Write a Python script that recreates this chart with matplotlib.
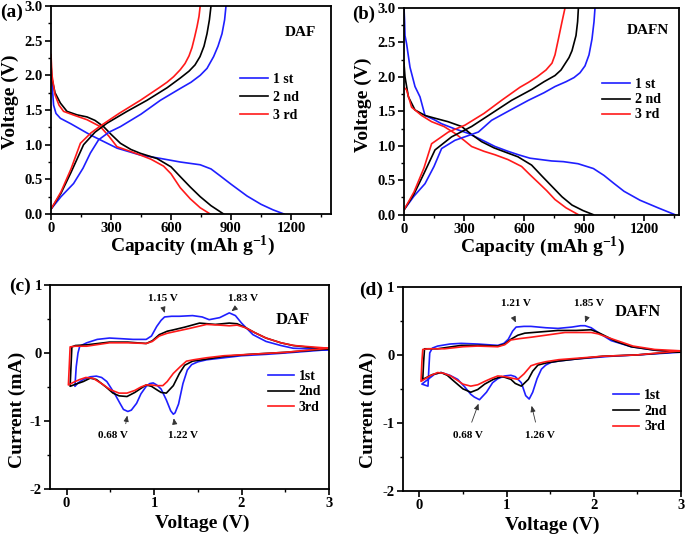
import matplotlib
matplotlib.use("Agg")
import matplotlib.pyplot as plt
from matplotlib.ticker import MultipleLocator, FormatStrFormatter

plt.rcParams['font.family'] = ['Liberation Serif', 'DejaVu Serif']
plt.rcParams['font.weight'] = 'bold'
plt.rcParams['axes.unicode_minus'] = False
plt.rcParams['mathtext.fontset'] = 'custom'
plt.rcParams['mathtext.rm'] = 'Liberation Serif:bold'
plt.rcParams['mathtext.it'] = 'Liberation Serif:bold'
plt.rcParams['mathtext.bf'] = 'Liberation Serif:bold'
plt.rcParams['mathtext.default'] = 'regular'

# ---------------- data: panel (a) DAF galvanostatic ----------------
a1_dis_cap = [0, 5, 13, 25, 47, 100, 197, 330, 447, 550, 646, 746, 800, 846, 900, 980, 1050, 1110, 1165]
a1_dis_v = [2.05, 1.88, 1.57, 1.45, 1.38, 1.30, 1.14, 0.95, 0.85, 0.80, 0.75, 0.71, 0.65, 0.55, 0.43, 0.26, 0.14, 0.06, 0.0]
a2_dis_cap = [0, 5, 20, 47, 80, 130, 180, 220, 263, 300, 347, 400, 447, 530, 600, 646, 696, 746, 800, 863]
a2_dis_v = [2.15, 1.95, 1.75, 1.60, 1.48, 1.43, 1.40, 1.35, 1.26, 1.15, 1.02, 0.93, 0.875, 0.80, 0.68, 0.54, 0.39, 0.25, 0.12, 0.0]
a3_dis_cap = [0, 5, 20, 40, 63, 120, 180, 247, 290, 330, 400, 447, 500, 563, 600, 646, 696, 746, 796]
a3_dis_v = [2.3, 2.0, 1.72, 1.57, 1.48, 1.42, 1.36, 1.26, 1.12, 0.97, 0.90, 0.85, 0.79, 0.69, 0.58, 0.38, 0.22, 0.09, 0.0]
a1_chg_cap = [0, 50, 113, 160, 197, 238, 290, 347, 450, 547, 646, 700, 746, 780, 813, 835, 855, 868, 875]
a1_chg_v = [0.07, 0.25, 0.44, 0.66, 0.88, 1.07, 1.18, 1.26, 1.44, 1.64, 1.81, 1.90, 2.0, 2.1, 2.27, 2.42, 2.6, 2.8, 3.0]
a2_chg_cap = [0, 50, 100, 163, 220, 280, 380, 480, 580, 646, 690, 720, 745, 765, 780, 792, 800]
a2_chg_v = [0.07, 0.3, 0.6, 1.0, 1.18, 1.31, 1.48, 1.64, 1.82, 1.96, 2.06, 2.15, 2.27, 2.42, 2.6, 2.8, 3.0]
a3_chg_cap = [0, 50, 100, 147, 200, 247, 340, 447, 540, 580, 613, 646, 670, 690, 705, 718, 730, 740, 746]
a3_chg_v = [0.07, 0.32, 0.65, 1.02, 1.17, 1.27, 1.45, 1.64, 1.82, 1.9, 1.98, 2.08, 2.17, 2.28, 2.4, 2.55, 2.7, 2.85, 3.0]

# ---------------- data: panel (b) DAFN galvanostatic ----------------
b1_dis_cap = [0, 3, 5, 13, 30, 55, 80, 105, 150, 188, 250, 322, 400, 455, 520, 572, 630, 738, 797, 870, 947, 1000, 1047, 1100, 1180, 1270, 1355]
b1_dis_v = [3.0, 2.8, 2.6, 2.48, 2.14, 1.86, 1.71, 1.44, 1.38, 1.32, 1.25, 1.18, 1.07, 0.99, 0.92, 0.87, 0.82, 0.78, 0.77, 0.74, 0.67, 0.57, 0.46, 0.34, 0.21, 0.1, 0.0]
b2_dis_cap = [0, 5, 22, 55, 105, 155, 220, 288, 340, 388, 450, 505, 570, 638, 690, 740, 790, 840, 895, 947]
b2_dis_v = [2.2, 2.0, 1.71, 1.52, 1.44, 1.40, 1.35, 1.28, 1.16, 1.06, 0.97, 0.91, 0.84, 0.72, 0.56, 0.41, 0.26, 0.14, 0.06, 0.0]
b3_dis_cap = [0, 13, 38, 88, 138, 200, 255, 300, 338, 400, 455, 520, 588, 630, 670, 713, 755, 810, 872]
b3_dis_v = [1.85, 1.81, 1.56, 1.44, 1.35, 1.28, 1.18, 1.08, 0.99, 0.92, 0.87, 0.80, 0.70, 0.58, 0.47, 0.35, 0.22, 0.1, 0.0]
b1_chg_cap = [0, 50, 105, 150, 188, 255, 372, 438, 520, 622, 700, 755, 810, 850, 880, 905, 925, 940, 950, 955]
b1_chg_v = [0.07, 0.27, 0.45, 0.7, 0.96, 1.08, 1.2, 1.37, 1.5, 1.66, 1.77, 1.86, 1.93, 1.99, 2.06, 2.16, 2.32, 2.55, 2.8, 3.0]
b2_chg_cap = [0, 50, 100, 155, 238, 338, 438, 538, 640, 700, 755, 785, 805, 825, 840, 860, 868, 872]
b2_chg_v = [0.07, 0.3, 0.6, 0.94, 1.13, 1.28, 1.47, 1.66, 1.82, 1.93, 2.02, 2.1, 2.19, 2.28, 2.38, 2.6, 2.8, 3.0]
b3_chg_cap = [0, 50, 100, 138, 222, 305, 400, 488, 580, 622, 665, 710, 740, 755, 772, 790, 805]
b3_chg_v = [0.07, 0.33, 0.68, 1.03, 1.2, 1.3, 1.47, 1.66, 1.85, 1.92, 2.0, 2.1, 2.2, 2.32, 2.55, 2.8, 3.0]

# ---------------- data: panel (c) DAF CV ----------------
c1_up_v = [0.095, 0.11, 0.13, 0.15, 0.23, 0.35, 0.49, 0.63, 0.76, 0.91, 0.97, 1.03, 1.08, 1.12, 1.2, 1.29, 1.44, 1.55, 1.63, 1.75, 1.86, 1.93, 2.0, 2.13, 2.28, 2.45, 2.59, 2.8, 3.0]
c1_up_i = [-0.49, -0.2, 0.0, 0.1, 0.15, 0.2, 0.22, 0.21, 0.2, 0.2, 0.25, 0.39, 0.48, 0.53, 0.54, 0.54, 0.55, 0.53, 0.49, 0.52, 0.59, 0.55, 0.44, 0.27, 0.17, 0.11, 0.07, 0.06, 0.05]
c1_lo_v = [3.0, 2.5, 2.28, 2.0, 1.8, 1.6, 1.5, 1.43, 1.38, 1.33, 1.28, 1.24, 1.22, 1.19, 1.14, 1.08, 1.03, 0.99, 0.95, 0.91, 0.85, 0.8, 0.74, 0.7, 0.65, 0.61, 0.55, 0.46, 0.4, 0.34, 0.27, 0.19, 0.13, 0.095]
c1_lo_i = [0.05, 0.0, -0.02, -0.04, -0.07, -0.1, -0.13, -0.17, -0.25, -0.45, -0.75, -0.88, -0.9, -0.85, -0.69, -0.53, -0.47, -0.44, -0.45, -0.49, -0.6, -0.74, -0.84, -0.86, -0.83, -0.74, -0.6, -0.42, -0.36, -0.34, -0.35, -0.39, -0.44, -0.49]
c2_up_v = [0.04, 0.05, 0.06, 0.1, 0.23, 0.49, 0.7, 0.91, 0.98, 1.06, 1.15, 1.22, 1.35, 1.52, 1.7, 1.86, 1.95, 2.05, 2.15, 2.28, 2.45, 2.59, 2.8, 3.0]
c2_up_i = [-0.49, -0.2, 0.09, 0.11, 0.12, 0.16, 0.16, 0.14, 0.18, 0.27, 0.32, 0.34, 0.38, 0.44, 0.42, 0.44, 0.43, 0.37, 0.3, 0.22, 0.15, 0.11, 0.08, 0.06]
c2_lo_v = [3.0, 2.5, 2.09, 1.8, 1.6, 1.44, 1.35, 1.29, 1.22, 1.14, 1.08, 1.03, 0.97, 0.91, 0.85, 0.78, 0.69, 0.6, 0.53, 0.45, 0.34, 0.27, 0.19, 0.1, 0.04]
c2_lo_i = [0.06, 0.01, -0.02, -0.05, -0.09, -0.12, -0.18, -0.3, -0.48, -0.59, -0.58, -0.54, -0.49, -0.47, -0.52, -0.58, -0.64, -0.63, -0.59, -0.5, -0.39, -0.37, -0.42, -0.46, -0.49]
c3_up_v = [0.02, 0.03, 0.04, 0.1, 0.23, 0.49, 0.7, 0.91, 0.98, 1.06, 1.15, 1.22, 1.4, 1.6, 1.75, 1.86, 1.95, 2.05, 2.15, 2.28, 2.45, 2.6, 2.8, 3.0]
c3_up_i = [-0.47, -0.2, 0.09, 0.1, 0.1, 0.15, 0.15, 0.14, 0.17, 0.25, 0.29, 0.31, 0.36, 0.42, 0.41, 0.40, 0.41, 0.37, 0.3, 0.22, 0.15, 0.11, 0.09, 0.07]
c3_lo_v = [3.0, 2.5, 2.09, 1.8, 1.6, 1.45, 1.37, 1.3, 1.22, 1.15, 1.1, 1.03, 0.97, 0.91, 0.85, 0.78, 0.69, 0.6, 0.5, 0.4, 0.3, 0.22, 0.15, 0.08, 0.02]
c3_lo_i = [0.07, 0.01, -0.02, -0.04, -0.07, -0.1, -0.12, -0.2, -0.3, -0.42, -0.48, -0.48, -0.47, -0.47, -0.5, -0.55, -0.59, -0.59, -0.54, -0.45, -0.37, -0.36, -0.39, -0.43, -0.47]

# ---------------- data: panel (d) DAFN CV ----------------
d1_up_v = [0.1, 0.11, 0.12, 0.15, 0.21, 0.35, 0.48, 0.67, 0.9, 0.97, 1.02, 1.07, 1.11, 1.2, 1.28, 1.45, 1.59, 1.75, 1.85, 1.9, 1.97, 2.05, 2.2, 2.43, 2.7, 3.0]
d1_up_i = [-0.46, -0.2, 0.03, 0.1, 0.13, 0.16, 0.17, 0.16, 0.14, 0.17, 0.23, 0.35, 0.41, 0.42, 0.42, 0.4, 0.39, 0.41, 0.43, 0.43, 0.4, 0.33, 0.21, 0.12, 0.07, 0.04]
d1_lo_v = [3.0, 2.5, 2.2, 1.8, 1.6, 1.51, 1.45, 1.4, 1.35, 1.3, 1.26, 1.22, 1.17, 1.1, 1.05, 0.98, 0.9, 0.84, 0.77, 0.69, 0.63, 0.59, 0.52, 0.44, 0.35, 0.25, 0.18, 0.1, 0.03]
d1_lo_i = [0.04, 0.0, -0.02, -0.06, -0.09, -0.11, -0.15, -0.21, -0.35, -0.55, -0.65, -0.6, -0.41, -0.32, -0.3, -0.31, -0.35, -0.41, -0.55, -0.66, -0.62, -0.58, -0.47, -0.36, -0.3, -0.26, -0.28, -0.36, -0.43]
d2_up_v = [0.04, 0.05, 0.06, 0.1, 0.21, 0.48, 0.7, 0.9, 0.98, 1.05, 1.13, 1.21, 1.4, 1.59, 1.8, 1.97, 2.05, 2.13, 2.25, 2.43, 2.7, 3.0]
d2_up_i = [-0.36, -0.1, 0.09, 0.09, 0.09, 0.14, 0.14, 0.13, 0.16, 0.23, 0.29, 0.32, 0.34, 0.36, 0.36, 0.37, 0.33, 0.28, 0.2, 0.12, 0.07, 0.04]
d2_lo_v = [3.0, 2.5, 2.1, 1.8, 1.6, 1.45, 1.36, 1.3, 1.25, 1.17, 1.1, 1.05, 0.98, 0.94, 0.85, 0.75, 0.67, 0.59, 0.5, 0.4, 0.32, 0.25, 0.15, 0.04]
d2_lo_i = [0.05, 0.0, -0.02, -0.06, -0.09, -0.12, -0.15, -0.24, -0.36, -0.46, -0.42, -0.36, -0.33, -0.32, -0.36, -0.43, -0.51, -0.55, -0.5, -0.39, -0.3, -0.26, -0.29, -0.36]
d3_up_v = [0.02, 0.03, 0.04, 0.1, 0.29, 0.5, 0.67, 0.9, 0.98, 1.05, 1.15, 1.28, 1.45, 1.67, 1.85, 1.97, 2.05, 2.2, 2.45, 2.7, 3.0]
d3_up_i = [-0.39, -0.1, 0.08, 0.09, 0.09, 0.12, 0.13, 0.12, 0.15, 0.22, 0.24, 0.26, 0.29, 0.33, 0.33, 0.33, 0.31, 0.24, 0.13, 0.08, 0.06]
d3_lo_v = [3.0, 2.5, 2.1, 1.8, 1.6, 1.45, 1.35, 1.28, 1.2, 1.13, 1.05, 0.98, 0.9, 0.82, 0.75, 0.67, 0.59, 0.5, 0.42, 0.36, 0.28, 0.21, 0.12, 0.02]
d3_lo_i = [0.06, 0.0, -0.02, -0.05, -0.07, -0.1, -0.13, -0.16, -0.28, -0.36, -0.34, -0.32, -0.31, -0.35, -0.39, -0.44, -0.46, -0.43, -0.36, -0.31, -0.27, -0.26, -0.31, -0.39]

gc_labels = ['1 st', '2 nd', '3 rd']
cv_labels = ['1st', '2nd', '3rd']
colors = ['#1f1fff', '#000000', '#ff1a1a']

c_peaks = [('1.15 V', (1.13, 0.55), (1.10, 0.68), (1.10, 0.80)),
           ('1.83 V', (1.86, 0.59), (1.93, 0.66), (2.02, 0.80)),
           ('0.68 V', (0.70, -0.88), (0.67, -1.08), (0.53, -1.21)),
           ('1.22 V', (1.22, -0.92), (1.24, -1.08), (1.33, -1.21))]
d_peaks = [('1.21 V', (1.12, 0.44), (1.07, 0.58), (1.11, 0.75)),
           ('1.85 V', (1.89, 0.44), (1.93, 0.58), (1.95, 0.75)),
           ('0.68 V', (0.69, -0.68), (0.59, -1.03), (0.56, -1.18)),
           ('1.26 V', (1.28, -0.71), (1.34, -1.03), (1.38, -1.18))]

W, H = 685, 536
fig = plt.figure(figsize=(W / 100, H / 100), dpi=100)


def px_axes(l, r, t, b):
    return fig.add_axes([l / W, 1 - b / H, (r - l) / W, (b - t) / H])


def style(ax):
    for s in ax.spines.values():
        s.set_linewidth(1.3)
    ax.tick_params(which='major', direction='out', length=4, width=1.2, labelsize=10.5, pad=2)
    ax.tick_params(which='minor', direction='out', length=2.2, width=1.0)
    for lab in ax.get_xticklabels() + ax.get_yticklabels():
        lab.set_fontweight('bold')


lw = 1.2

# panel (a)
axa = px_axes(51, 331, 6, 214)
for cap, v, c in [(a1_dis_cap, a1_dis_v, colors[0]), (a2_dis_cap, a2_dis_v, colors[1]), (a3_dis_cap, a3_dis_v, colors[2])]:
    axa.plot(cap, v, color=c, lw=lw)
for cap, v, c, lab in [(a1_chg_cap, a1_chg_v, colors[0], gc_labels[0]), (a2_chg_cap, a2_chg_v, colors[1], gc_labels[1]), (a3_chg_cap, a3_chg_v, colors[2], gc_labels[2])]:
    axa.plot(cap, v, color=c, lw=lw, label=lab)
axa.set_xlim(0, 1400)
axa.set_ylim(0, 3.0)
axa.xaxis.set_major_locator(MultipleLocator(300))
axa.xaxis.set_minor_locator(MultipleLocator(150))
axa.yaxis.set_major_locator(MultipleLocator(0.5))
axa.yaxis.set_minor_locator(MultipleLocator(0.25))
axa.yaxis.set_major_formatter(FormatStrFormatter('%.1f'))
style(axa)
axa.text(1247, 2.62, 'DAF', ha='center', va='center', fontsize=11, fontweight='bold')
axa.legend(loc='upper left', bbox_to_anchor=(0.675, 0.68), frameon=False, fontsize=10,
           handlelength=2.0, handletextpad=0.35, labelspacing=0.38, borderpad=0, borderaxespad=0)

# panel (b)
axb = px_axes(404, 679, 8, 214.7)
for cap, v, c in [(b1_dis_cap, b1_dis_v, colors[0]), (b2_dis_cap, b2_dis_v, colors[1]), (b3_dis_cap, b3_dis_v, colors[2])]:
    axb.plot(cap, v, color=c, lw=lw)
for cap, v, c, lab in [(b1_chg_cap, b1_chg_v, colors[0], gc_labels[0]), (b2_chg_cap, b2_chg_v, colors[1], gc_labels[1]), (b3_chg_cap, b3_chg_v, colors[2], gc_labels[2])]:
    axb.plot(cap, v, color=c, lw=lw, label=lab)
axb.set_xlim(0, 1375)
axb.set_ylim(0, 3.0)
axb.xaxis.set_major_locator(MultipleLocator(300))
axb.xaxis.set_minor_locator(MultipleLocator(150))
axb.yaxis.set_major_locator(MultipleLocator(0.5))
axb.yaxis.set_minor_locator(MultipleLocator(0.25))
axb.yaxis.set_major_formatter(FormatStrFormatter('%.1f'))
style(axb)
axb.text(1222, 2.68, 'DAFN', ha='center', va='center', fontsize=11, fontweight='bold')
axb.legend(loc='upper left', bbox_to_anchor=(0.72, 0.66), frameon=False, fontsize=10,
           handlelength=2.0, handletextpad=0.35, labelspacing=0.15, borderpad=0, borderaxespad=0)


def cv_panel(ax, up, lo, peaks, name, name_xy, leg_anchor):
    for (uv, ui), (lv, li), c, lab in zip(up, lo, colors, cv_labels):
        ax.plot(lv + uv, li + ui, color=c, lw=lw, label=lab)
    ax.set_xlim(-0.19, 3)
    ax.set_ylim(-2, 1)
    ax.xaxis.set_major_locator(MultipleLocator(1))
    ax.xaxis.set_minor_locator(MultipleLocator(0.5))
    ax.yaxis.set_major_locator(MultipleLocator(1))
    ax.yaxis.set_minor_locator(MultipleLocator(0.5))
    style(ax)
    for txt, head, tail, tpos in peaks:
        ax.annotate('', xy=head, xytext=tail,
                    arrowprops=dict(arrowstyle='-|>,head_length=0.35,head_width=0.15', color='#333333', lw=0.6))
        ax.text(tpos[0], tpos[1], txt, ha='center', va='center', fontsize=8, fontweight='bold')
    ax.text(name_xy[0], name_xy[1], name, ha='center', va='center', fontsize=12, fontweight='bold')
    ax.legend(loc='upper left', bbox_to_anchor=leg_anchor, frameon=False, fontsize=10,
              handlelength=1.9, handletextpad=0.35, labelspacing=0.2, borderpad=0, borderaxespad=0)


axc = px_axes(50, 329, 285, 489)
cv_panel(axc, [(c1_up_v, c1_up_i), (c2_up_v, c2_up_i), (c3_up_v, c3_up_i)],
         [(c1_lo_v, c1_lo_i), (c2_lo_v, c2_lo_i), (c3_lo_v, c3_lo_i)],
         c_peaks, 'DAF', (2.59, 0.49), (0.78, 0.585))

axd = px_axes(402.7, 681, 287, 490.7)
cv_panel(axd, [(d1_up_v, d1_up_i), (d2_up_v, d2_up_i), (d3_up_v, d3_up_i)],
         [(d1_lo_v, d1_lo_i), (d2_lo_v, d2_lo_i), (d3_lo_v, d3_lo_i)],
         d_peaks, 'DAFN', (2.51, 0.63), (0.756, 0.50))


def ftext(x, y, s, **kw):
    fig.text(x / W, 1 - y / H, s, ha='center', va='center', fontweight='bold', **kw)


ftext(10, 102, 'Voltage (V)', fontsize=14, rotation=90)
ftext(363, 105, 'Voltage (V)', fontsize=14, rotation=90)
ftext(192, 246, 'Capacity (mAh g$^{-1}$)', fontsize=14)
ftext(542, 247, 'Capacity (mAh g$^{-1}$)', fontsize=14)
ftext(17, 410, 'Current (mA)', fontsize=14, rotation=90)
ftext(368, 410, 'Current (mA)', fontsize=14, rotation=90)
ftext(202, 523, 'Voltage (V)', fontsize=14)
ftext(552, 525, 'Voltage (V)', fontsize=14)

ftext(12, 12, '(a)', fontsize=14)
ftext(364, 14, '(b)', fontsize=13.5)
ftext(20, 286, '(c)', fontsize=14)
ftext(371, 290, '(d)', fontsize=14)

fig.savefig('out.png', dpi=100)
